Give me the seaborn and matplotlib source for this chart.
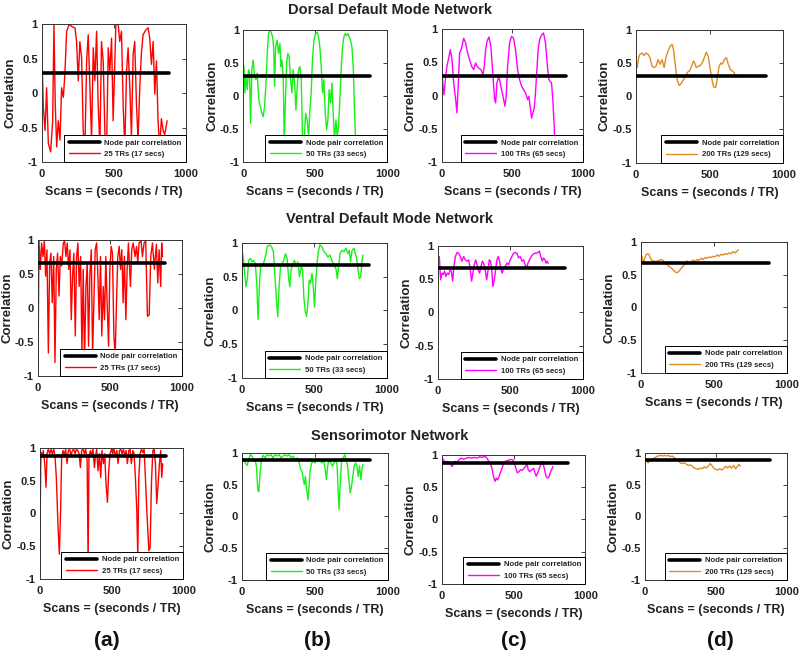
import matplotlib
matplotlib.use("Agg")
import matplotlib.pyplot as plt
import seaborn as sns
import pandas as pd

# networks (rows) and sliding windows (columns)
networks = ["Dorsal Default Mode Network", "Ventral Default Mode Network", "Sensorimotor Network"]
node_pair_corr = [0.30, 0.67, 0.88]
node_line_x = [0, 880]
window_labels = ["25 TRs (17 secs)", "50 TRs (33 secs)", "100 TRs (65 secs)", "200 TRs (129 secs)"]
panel_letters = ["(a)", "(b)", "(c)", "(d)"]
x_ticks = [0, 500, 1000]
y_ticks = [-1, -0.5, 0, 0.5, 1]
y_tick_labels = ["-1", "-0.5", "0", "0.5", "1"]

# (scan, correlation)
dorsal_25 = [(0, 0.52), (9, -0.2), (21, -0.54), (32, 0.08), (44, -0.73), (60, -0.85), (74, -0.4), (83, 1.0),
             (92, -0.16), (102, -0.78), (113, -0.4), (125, -0.68), (136, 0.08), (148, -0.06), (159, 0.28),
             (171, 0.9), (189, 1.0), (206, 0.97), (229, 0.95), (240, 0.75), (252, 0.18), (263, 0.75),
             (275, 0.52), (286, -0.54), (298, -0.8), (310, 0.47), (321, 0.85), (333, 0.08), (344, -0.68),
             (356, 0.66), (367, 0.18), (379, 0.9), (390, -0.16), (402, -0.78), (413, 0.75), (425, 0.47),
             (437, -0.59), (448, -0.88), (460, 0.66), (471, 0.32), (483, 0.8), (494, -0.4), (513, 1.0),
             (529, 1.0), (540, 0.75), (552, 0.9), (564, -0.2), (575, -0.8), (587, 0.32), (598, 0.66),
             (610, 0.08), (621, -0.63), (633, 0.57), (644, 0.75), (656, -0.16), (667, -0.68), (679, 0.08),
             (690, 0.57), (702, 0.85), (721, 0.92), (737, 0.95), (748, 0.8), (760, 0.42), (772, 0.75),
             (783, -0.01), (795, 0.47), (806, -0.4), (817, -0.8), (829, -0.37), (841, -0.54), (852, -0.6),
             (869, -0.4)]
dorsal_50 = [(0, 0.47), (5, 0.45), (12, 0.05), (19, 0.3), (28, 0.1), (37, 0.4), (44, 0.35), (51, -0.41),
             (60, 0.4), (69, 0.55), (79, 0.3), (88, 0.25), (97, 0.35), (104, 0.1), (111, -0.1), (120, -0.16),
             (130, -0.26), (139, -0.31), (148, -0.16), (157, 0.15), (167, 0.65), (176, 0.95), (185, 1.0),
             (194, 0.97), (204, 0.9), (211, 0.75), (218, 0.15), (225, 0.75), (236, 0.85), (245, 0.65),
             (255, 0.8), (262, 0.45), (269, 0.55), (278, 0.3), (285, -0.71), (292, -0.16), (301, 0.5),
             (310, 0.65), (319, 0.6), (329, 0.25), (338, 0.05), (347, 0.4), (357, 0.2), (366, -0.21),
             (375, 0.15), (384, 0.4), (394, 0.45), (403, 0.25), (412, -0.61), (421, -0.8), (433, -0.26),
             (444, -0.36), (454, -0.61), (463, -0.21), (472, 0.05), (481, 0.55), (491, 0.85), (502, 0.95),
             (514, 0.97), (523, 0.9), (532, 0.75), (542, 0.45), (551, 0.05), (560, 0.25), (570, -0.26),
             (579, -0.51), (588, -0.36), (597, 0.1), (607, -0.1), (616, 0.2), (625, -0.26), (634, -0.66),
             (644, -0.36), (653, -0.61), (662, -0.46), (671, -0.06), (681, 0.45), (690, 0.75), (699, 0.9),
             (708, 0.95), (718, 0.92), (727, 0.95), (736, 0.9), (745, 0.85), (755, 0.75), (764, 0.45),
             (773, -0.21), (782, -0.76)]
dorsal_100 = [(0, 0.39), (7, 0.14), (14, 0.01), (24, 0.24), (35, 0.44), (47, 0.56), (59, 0.69), (71, 0.54),
              (83, 0.19), (97, -0.06), (106, -0.26), (116, 0.19), (125, 0.64), (139, 0.71), (154, 0.86),
              (168, 0.79), (182, 0.64), (196, 0.54), (210, 0.44), (225, 0.39), (239, 0.49), (248, 0.44),
              (262, 0.41), (277, 0.39), (291, 0.31), (300, 0.44), (310, 0.69), (319, 0.81), (333, 0.88),
              (347, 0.74), (362, 0.29), (374, -0.06), (381, -0.11), (390, 0.19), (404, 0.29), (418, 0.14),
              (433, -0.01), (447, -0.16), (456, -0.01), (466, 0.44), (480, 0.79), (494, 0.89), (508, 0.86),
              (522, 0.69), (537, 0.39), (551, 0.24), (565, 0.14), (579, 0.09), (593, 0.04), (608, -0.06),
              (617, -0.01), (626, -0.16), (636, -0.34), (645, -0.26), (655, -0.19), (664, 0.04), (674, 0.39),
              (683, 0.69), (693, 0.84), (707, 0.91), (721, 0.94), (735, 0.79), (749, 0.44), (759, 0.24),
              (768, 0.21), (778, 0.19), (787, -0.06), (797, -0.46), (801, -0.7)]
dorsal_200 = [(0, 0.55), (9, 0.43), (18, 0.58), (27, 0.63), (41, 0.65), (55, 0.61), (68, 0.65), (82, 0.63),
              (95, 0.58), (109, 0.45), (123, 0.43), (136, 0.45), (150, 0.55), (164, 0.48), (177, 0.55),
              (191, 0.43), (205, 0.6), (218, 0.68), (232, 0.75), (245, 0.78), (255, 0.7), (268, 0.45),
              (277, 0.28), (286, 0.2), (295, 0.16), (309, 0.2), (323, 0.25), (336, 0.3), (350, 0.36),
              (364, 0.38), (377, 0.45), (391, 0.53), (400, 0.49), (409, 0.43), (423, 0.45), (436, 0.46),
              (450, 0.5), (464, 0.58), (477, 0.66), (491, 0.6), (505, 0.4), (518, 0.23), (527, 0.14),
              (541, 0.13), (550, 0.23), (564, 0.45), (577, 0.5), (586, 0.48), (600, 0.55), (614, 0.58),
              (627, 0.48), (641, 0.4), (655, 0.38), (668, 0.35), (677, 0.29), (686, 0.29)]

ventral_25 = [(0, -0.85), (7, 0.99), (16, 0.57), (25, 0.96), (35, 0.76), (44, 0.99), (53, 0.47), (62, 0.86),
              (72, -0.66), (81, 0.67), (90, 0.81), (99, 0.08), (109, 0.76), (118, -0.8), (127, 0.57),
              (136, 0.81), (146, 0.18), (155, 0.76), (164, 0.62), (176, 0.96), (185, 0.99), (194, 0.76),
              (203, 0.96), (213, 0.57), (222, 0.86), (231, -0.17), (240, 0.47), (249, 0.81), (259, -0.41),
              (268, 0.76), (277, 0.96), (286, 0.32), (296, 0.76), (305, -0.66), (314, 0.57), (323, -0.8),
              (333, 0.32), (342, 0.67), (351, -0.56), (360, 0.47), (370, 0.86), (379, -0.7), (388, 0.08),
              (397, 0.86), (407, 0.96), (416, 0.47), (425, -0.17), (434, 0.76), (443, -0.41), (453, 0.32),
              (462, -0.17), (471, 0.76), (480, 0.08), (490, -0.56), (499, 0.57), (508, 0.91), (517, 0.81),
              (527, -0.41), (536, -0.7), (545, 0.08), (554, 0.76), (564, 0.91), (573, 0.57), (582, 0.86),
              (591, 0.08), (600, 0.76), (610, -0.17), (619, 0.57), (628, 0.96), (642, 0.32), (651, 0.86),
              (661, 0.96), (674, 0.76), (684, 0.91), (693, 0.67), (702, 0.96), (716, 0.99), (725, 0.76),
              (737, 0.96), (748, 0.99), (760, -0.12), (772, -0.1), (783, 0.76), (795, 0.96), (808, 0.57),
              (822, 0.94), (832, 0.37), (841, 0.86), (852, 0.32), (859, 0.96), (864, 0.76)]
ventral_50 = [(0, 0.89), (9, 0.79), (18, 0.55), (28, 0.35), (37, 0.47), (46, 0.74), (58, 0.77), (69, 0.72),
              (81, 0.74), (92, 0.69), (102, 0.4), (111, -0.13), (120, 0.35), (129, 0.69), (141, 0.65),
              (152, 0.72), (164, 0.82), (175, 0.95), (192, 0.97), (205, 0.94), (217, 0.87), (226, 0.55),
              (238, 0.15), (247, -0.09), (256, 0.35), (266, 0.65), (277, 0.69), (289, 0.75), (300, 0.84),
              (312, 0.77), (321, 0.5), (330, 0.35), (339, 0.6), (351, 0.69), (363, 0.74), (374, 0.65),
              (386, 0.72), (397, 0.5), (409, 0.65), (418, 0.6), (427, 0.2), (436, 0.0), (446, -0.09),
              (455, 0.1), (464, 0.45), (473, 0.4), (483, 0.55), (492, 0.35), (501, 0.05), (510, 0.45),
              (520, 0.74), (529, 0.89), (538, 0.97), (552, 0.94), (566, 0.87), (580, 0.84), (593, 0.79),
              (607, 0.82), (621, 0.74), (635, 0.67), (649, 0.62), (658, 0.47), (667, 0.65), (677, 0.84),
              (690, 0.89), (704, 0.87), (718, 0.92), (732, 0.84), (741, 0.89), (750, 0.72), (760, 0.89),
              (774, 0.92), (783, 0.84), (792, 0.77), (801, 0.6), (810, 0.47), (820, 0.5), (829, 0.74),
              (836, 0.82)]
ventral_100 = [(0, 0.82), (9, 0.84), (18, 0.49), (28, 0.59), (37, 0.57), (46, 0.62), (55, 0.54), (64, 0.59),
               (74, 0.57), (83, 0.64), (92, 0.62), (101, 0.47), (110, 0.69), (120, 0.84), (131, 0.9),
               (143, 0.89), (154, 0.84), (166, 0.77), (177, 0.84), (189, 0.79), (200, 0.77), (212, 0.79),
               (223, 0.64), (232, 0.47), (241, 0.59), (251, 0.72), (260, 0.79), (269, 0.72), (278, 0.64),
               (287, 0.59), (297, 0.69), (306, 0.77), (315, 0.74), (326, 0.64), (336, 0.49), (345, 0.62),
               (354, 0.79), (363, 0.77), (372, 0.62), (379, 0.39), (389, 0.49), (398, 0.64), (407, 0.79),
               (416, 0.84), (425, 0.77), (435, 0.64), (444, 0.59), (453, 0.67), (464, 0.69), (476, 0.74),
               (487, 0.72), (499, 0.79), (510, 0.84), (522, 0.89), (533, 0.9), (545, 0.89), (556, 0.82),
               (568, 0.84), (579, 0.77), (591, 0.79), (602, 0.72), (612, 0.67), (621, 0.74), (632, 0.79),
               (644, 0.84), (655, 0.87), (667, 0.89), (678, 0.89), (690, 0.9), (701, 0.92), (710, 0.84),
               (720, 0.77), (729, 0.82), (738, 0.79), (747, 0.74), (754, 0.77), (761, 0.74)]
ventral_200 = [(0, 0.8), (9, 0.77), (18, 0.67), (27, 0.75), (36, 0.8), (45, 0.82), (55, 0.81), (64, 0.76),
               (75, 0.72), (86, 0.71), (100, 0.7), (114, 0.71), (127, 0.72), (141, 0.73), (155, 0.71),
               (168, 0.68), (182, 0.65), (195, 0.62), (209, 0.6), (223, 0.57), (236, 0.54), (250, 0.53),
               (264, 0.56), (277, 0.6), (291, 0.63), (305, 0.68), (318, 0.71), (332, 0.68), (345, 0.7),
               (359, 0.72), (373, 0.7), (386, 0.73), (400, 0.72), (414, 0.75), (427, 0.73), (441, 0.76),
               (455, 0.75), (468, 0.77), (482, 0.76), (495, 0.78), (509, 0.77), (523, 0.8), (536, 0.78),
               (550, 0.81), (564, 0.8), (577, 0.82), (591, 0.81), (605, 0.83), (618, 0.82), (632, 0.85),
               (645, 0.83), (659, 0.86), (668, 0.88)]

sensorimotor_25 = [(0, -0.36), (5, 0.76), (9, 0.93), (16, 0.86), (23, 0.96), (33, 0.76), (42, 0.4), (49, 0.91),
                   (58, 0.98), (68, 0.91), (77, 0.98), (86, 0.91), (96, 0.98), (105, 0.86), (114, 0.55),
                   (126, -0.21), (135, -0.62), (144, 0.04), (151, 0.86), (161, 0.96), (170, 0.88), (179, 0.98),
                   (189, 0.76), (198, 0.96), (207, 0.98), (217, 0.88), (226, 0.96), (235, 0.98), (245, 0.91),
                   (254, 0.98), (263, 0.96), (273, 0.91), (282, 0.7), (291, 0.96), (301, 0.98), (310, 0.91),
                   (319, 0.98), (329, 0.81), (336, -0.77), (342, 0.86), (352, 0.96), (361, 0.88), (370, 0.98),
                   (380, 0.7), (387, 0.86), (396, 0.98), (405, 0.65), (415, 0.91), (424, 0.55), (433, 0.96),
                   (443, 0.76), (452, 0.91), (461, 0.45), (471, 0.17), (480, 0.65), (489, 0.91), (499, 0.98),
                   (508, 0.91), (517, 0.98), (527, 0.86), (536, 0.96), (545, 0.76), (555, 0.96), (564, 0.98),
                   (573, 0.91), (583, 0.98), (592, 0.86), (601, 0.96), (610, 0.76), (620, 0.96), (629, 0.98),
                   (638, 0.76), (648, 0.96), (657, 0.91), (666, 0.55), (676, 0.04), (683, -0.67), (690, 0.55),
                   (699, 0.91), (708, 0.98), (718, 0.93), (727, 0.98), (736, 0.55), (746, 0.04), (760, -0.57),
                   (769, -0.52), (778, 0.45), (788, 0.96), (797, 0.98), (806, 0.76), (815, 0.15), (825, 0.45),
                   (834, 0.76), (843, 0.96), (850, 0.55), (857, 0.76)]
sensorimotor_50 = [(0, 0.92), (11, 0.89), (23, 0.84), (34, 0.8), (46, 0.89), (57, 0.97), (69, 0.95), (80, 0.87),
                   (89, 0.89), (99, 0.79), (108, 0.42), (115, 0.39), (124, 0.68), (133, 0.89), (145, 0.96),
                   (158, 0.92), (172, 0.97), (186, 0.95), (200, 0.97), (213, 0.92), (227, 0.97), (241, 0.95),
                   (255, 0.97), (268, 0.92), (282, 0.95), (296, 0.97), (310, 0.95), (323, 0.97), (337, 0.92),
                   (351, 0.95), (365, 0.89), (379, 0.92), (392, 0.84), (401, 0.74), (411, 0.71), (420, 0.58),
                   (427, 0.5), (434, 0.63), (443, 0.42), (452, 0.26), (459, 0.47), (466, 0.71), (477, 0.84),
                   (489, 0.87), (500, 0.84), (512, 0.89), (523, 0.87), (534, 0.89), (546, 0.84), (557, 0.89),
                   (569, 0.76), (578, 0.58), (587, 0.79), (596, 0.89), (608, 0.84), (619, 0.79), (631, 0.84),
                   (642, 0.89), (651, 0.82), (658, 0.42), (665, 0.11), (672, 0.47), (681, 0.84), (693, 0.92),
                   (704, 0.97), (713, 0.89), (723, 0.79), (732, 0.58), (741, 0.37), (750, 0.47), (759, 0.63),
                   (768, 0.79), (778, 0.84), (787, 0.79), (796, 0.63), (805, 0.79), (814, 0.58), (824, 0.79),
                   (830, 0.82)]
sensorimotor_100 = [(0, 0.95), (12, 0.92), (23, 0.88), (35, 0.9), (47, 0.88), (58, 0.86), (70, 0.82), (81, 0.87),
                    (93, 0.9), (105, 0.87), (116, 0.92), (133, 0.95), (151, 0.93), (170, 0.95), (188, 0.96),
                    (207, 0.95), (226, 0.96), (244, 0.95), (263, 0.97), (281, 0.96), (300, 0.98), (314, 0.95),
                    (326, 0.9), (337, 0.87), (349, 0.79), (360, 0.66), (370, 0.59), (379, 0.64), (388, 0.61),
                    (398, 0.66), (407, 0.72), (419, 0.79), (430, 0.87), (442, 0.9), (454, 0.91), (468, 0.92),
                    (481, 0.93), (495, 0.92), (507, 0.87), (516, 0.79), (526, 0.72), (537, 0.74), (549, 0.77),
                    (561, 0.76), (572, 0.79), (584, 0.82), (593, 0.87), (602, 0.77), (612, 0.74), (621, 0.76),
                    (630, 0.77), (640, 0.79), (649, 0.72), (658, 0.67), (668, 0.72), (677, 0.77), (688, 0.84),
                    (700, 0.9), (709, 0.84), (719, 0.74), (728, 0.66), (737, 0.64), (747, 0.66), (756, 0.72),
                    (765, 0.77), (775, 0.82)]
sensorimotor_200 = [(0, 0.91), (12, 0.88), (23, 0.84), (35, 0.88), (47, 0.87), (59, 0.91), (70, 0.92), (82, 0.94),
                    (96, 0.95), (110, 0.96), (124, 0.95), (138, 0.96), (152, 0.95), (166, 0.96), (180, 0.94),
                    (194, 0.95), (208, 0.92), (222, 0.89), (237, 0.87), (251, 0.84), (265, 0.83), (279, 0.84),
                    (293, 0.82), (307, 0.8), (321, 0.81), (335, 0.79), (349, 0.76), (363, 0.75), (377, 0.74),
                    (391, 0.76), (405, 0.75), (419, 0.78), (433, 0.76), (447, 0.79), (461, 0.83), (473, 0.8),
                    (485, 0.76), (499, 0.74), (513, 0.73), (527, 0.75), (541, 0.73), (555, 0.75), (569, 0.79),
                    (583, 0.76), (597, 0.79), (611, 0.76), (625, 0.8), (639, 0.75), (651, 0.78), (663, 0.82),
                    (672, 0.79)]

series = [[dorsal_25, dorsal_50, dorsal_100, dorsal_200],
          [ventral_25, ventral_50, ventral_100, ventral_200],
          [sensorimotor_25, sensorimotor_50, sensorimotor_100, sensorimotor_200]]

colors = ["#FF0000", "#19F019", "#FF00FF", "#DE8C26"]

# axes rectangles in figure fraction, one row per network
rects = [[[0.0525, 0.754, 0.180, 0.209], [0.304, 0.754, 0.180, 0.200], [0.5525, 0.754, 0.176, 0.202], [0.795, 0.753, 0.184, 0.202]],
         [[0.0475, 0.4294, 0.180, 0.206], [0.3025, 0.4264, 0.181, 0.205], [0.5475, 0.4249, 0.181, 0.202], [0.801, 0.434, 0.1825, 0.199]],
         [[0.050, 0.1214, 0.179, 0.199], [0.3025, 0.1199, 0.1825, 0.193], [0.5525, 0.1138, 0.179, 0.196], [0.806, 0.1199, 0.1775, 0.193]]]
title_y = [10, 219, 436]

sns.set_style("white")
plt.rcParams['font.family'] = ['Liberation Sans', 'DejaVu Sans']
plt.rcParams['font.weight'] = 'bold'
plt.rcParams['axes.labelweight'] = 'bold'

fig = plt.figure(figsize=(8, 6.59), dpi=100)

for r in range(3):
    for c in range(4):
        ax = fig.add_axes(rects[r][c])
        df = pd.DataFrame(series[r][c], columns=["scan", "corr"])
        sns.lineplot(data=df, x="scan", y="corr", color=colors[c], lw=1.0, label=window_labels[c],
                     estimator=None, sort=False, ax=ax)
        sns.lineplot(x=node_line_x, y=[node_pair_corr[r]] * 2, color="black", lw=2.6,
                     label="Node pair correlation", estimator=None, ax=ax, zorder=3)
        ax.set_xlim(0, 1000)
        ax.set_ylim(-1, 1)
        ax.set_xticks(x_ticks)
        ax.set_xticklabels([str(t) for t in x_ticks])
        ax.set_yticks(y_ticks)
        ax.set_yticklabels(y_tick_labels)
        ax.tick_params(direction="in", top=True, right=True, length=3, width=0.6, labelsize=8, colors="#222222")
        ax.tick_params(axis="x", pad=5)
        ax.tick_params(axis="y", pad=3)
        for s in ax.spines.values():
            s.set_color("#333333")
            s.set_linewidth(0.7)
        ax.set_xlabel("Scans = (seconds / TR)", fontsize=9, fontweight="bold", color="#222222", labelpad=5)
        ax.set_ylabel("Correlation", fontsize=9.5, fontweight="bold", color="#222222")
        # y label right edge a fixed distance left of the axes
        w_px = rects[r][c][2] * 800
        ax.yaxis.set_label_coords(-25 / w_px, 0.5)
        h, l = ax.get_legend_handles_labels()
        leg = ax.legend(h[::-1], l[::-1], loc="lower right", borderaxespad=0, fontsize=5.6,
                        frameon=True, fancybox=False, edgecolor="black", framealpha=1,
                        handlelength=4.0, borderpad=0.55, labelspacing=0.5, handletextpad=0.6)
        leg.get_frame().set_linewidth(0.7)

for r in range(3):
    fig.text(0.4875, 1 - title_y[r] / 659, networks[r], ha="center", va="center",
             fontsize=10.5, fontweight="bold", color="#222222")

letter_x = [107, 317, 514, 720]
for c in range(4):
    fig.text(letter_x[c] / 800, 1 - 640 / 659, panel_letters[c], ha="center", va="center",
             fontsize=15, fontweight="bold", color="#111111")

fig.savefig("out.png", dpi=100)
